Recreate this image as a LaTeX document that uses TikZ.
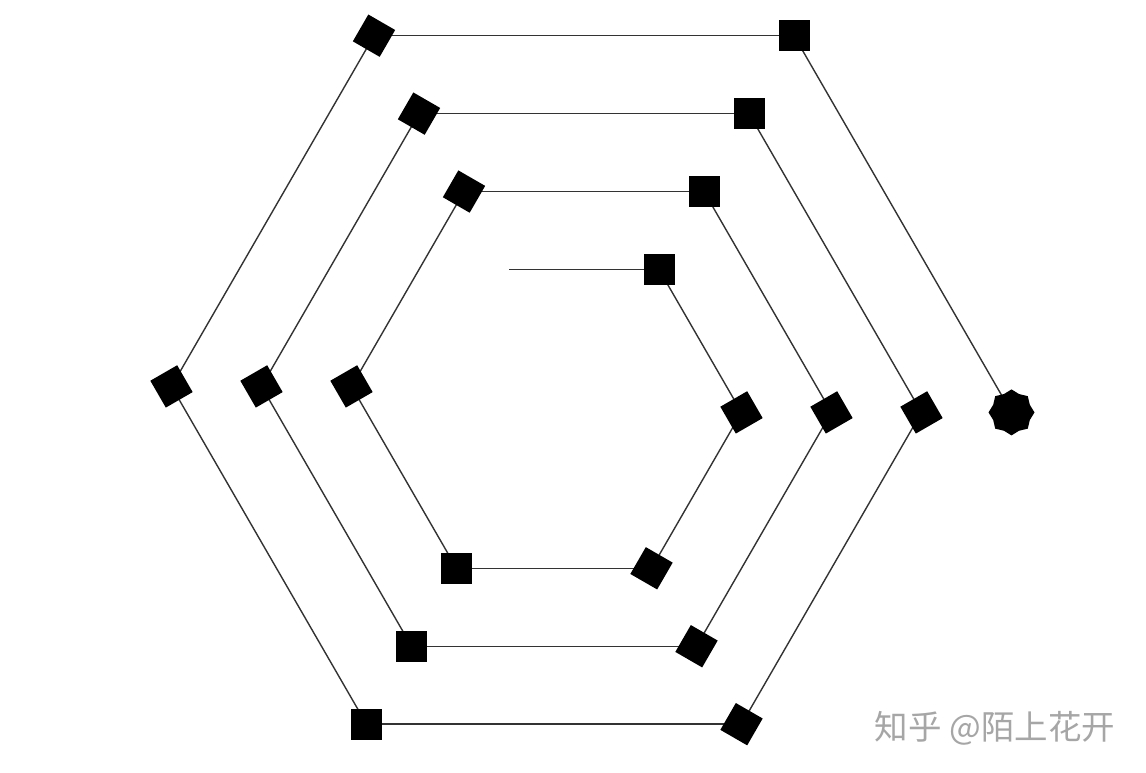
\documentclass[tikz,border=0pt]{standalone}
\usepackage{fontspec}
\newfontfamily\cjk{Noto Sans CJK SC}
\usetikzlibrary{shapes.geometric}
\tikzset{
  spiralline/.style={draw=black!80, line width=1.4pt},
  stampbox/.style={fill=black, draw=none, minimum size=31pt, inner sep=0pt, outer sep=0pt},
  turtlestar/.style={star, star points=8, star point ratio=1.16, fill=black, draw=none, minimum size=46pt, inner sep=0pt},
  watermark/.style={text=black!35, font=\cjk\fontsize{33.5}{33.5}\selectfont, inner sep=0pt}
}
\begin{document}
\begin{tikzpicture}[x=1pt, y=-1pt]
  \useasboundingbox[fill=white] (0,0) rectangle (1146,772);
  % start point (free end of the spiral)
  \coordinate (p0) at (509,269.5);
  % turtle walk: length 150+15k, heading turns 60 degrees clockwise each step
  \foreach \k in {0,...,19}{
    \pgfmathtruncatemacro{\n}{\k+1}
    \pgfmathsetmacro{\len}{150+15*\k}
    \pgfmathsetmacro{\ang}{60*\k}
    \path (p\k) ++(\ang:\len) coordinate (p\n);
  }
  % connectors
  \foreach \k in {0,...,19}{
    \pgfmathtruncatemacro{\n}{\k+1}
    \draw[spiralline] (p\k) -- (p\n);
  }
  % stamps
  \foreach \k in {0,...,18}{
    \pgfmathtruncatemacro{\n}{\k+1}
    \pgfmathsetmacro{\rot}{-60*\k}
    \node[stampbox, rotate=\rot] (s\n) at (p\n) {};
  }
  \node[turtlestar] (s20) at (p20) {};
  % watermark
  \node[watermark] (wm) at (995,728) {知乎 @陌上花开};
\end{tikzpicture}
\end{document}
